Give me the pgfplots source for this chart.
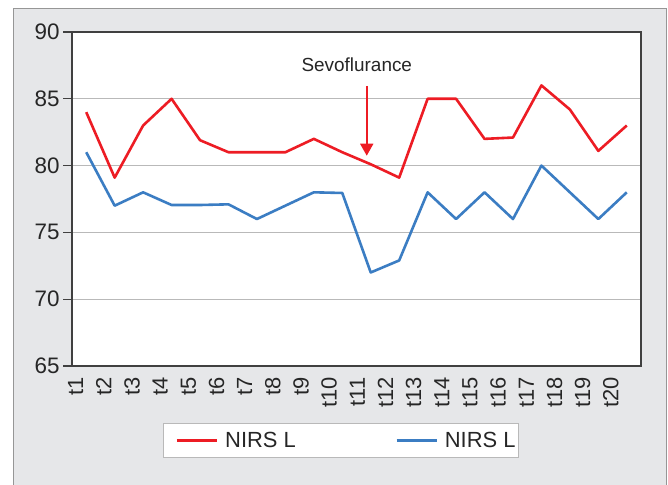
\documentclass[border=0pt]{standalone}
\usepackage{fontspec}
\setmainfont{Liberation Sans}
\usepackage{pgfplots}
\pgfplotsset{compat=1.18}
\usetikzlibrary{arrows.meta}
\definecolor{nred}{RGB}{237,28,36}
\definecolor{nblue}{RGB}{59,125,195}
\definecolor{framebg}{RGB}{230,231,233}
\definecolor{framegray}{RGB}{150,150,150}
\definecolor{gridgray}{RGB}{185,185,185}
\definecolor{axisdark}{RGB}{64,64,64}
\begin{document}
\begin{tikzpicture}[x=1bp,y=1bp]
\useasboundingbox (0,0) rectangle (668,485);
\clip (0,0) rectangle (668,485);
\draw[fill=framebg, draw=framegray, line width=1.3bp] (13.8,-10) rectangle (666.5,476.8);
\begin{axis}[
  at={(72bp,119bp)}, anchor=south west,
  width=569bp, height=334bp, scale only axis,
  xmin=0.5, xmax=20.5, ymin=65, ymax=90,
  ytick={65,70,75,80,85,90},
  xtick={0.631,1.621,2.611,3.600,4.590,5.580,6.570,7.560,8.549,9.539,10.529,11.519,12.509,13.498,14.488,15.478,16.468,17.458,18.447,19.437},
  xticklabels={t1,t2,t3,t4,t5,t6,t7,t8,t9,t10,t11,t12,t13,t14,t15,t16,t17,t18,t19,t20},
  xtick style={draw=none},
  xtick align=inside,
  ytick align=outside,
  ytick pos=left,
  major tick length=9bp,
  ytick style={color=axisdark, line width=1.1bp},
  ymajorgrids,
  grid style={color=gridgray, line width=1.1bp},
  axis line style={color=axisdark, line width=1.2bp},
  axis background/.style={fill=white},
  /pgf/number format/assume math mode=true,
  yticklabel style={font=\fontsize{22.5}{24}\selectfont, text=black!85},
  xticklabel style={font=\fontsize{22}{24}\selectfont, text=black!85, rotate=90, anchor=east},
  xticklabel shift=8bp,
  legend columns=2,
  legend image code/.code={\draw[#1] (0bp,0bp) -- (40bp,0bp);},
  legend style={
    at={(0.16,-0.1707)}, anchor=north west,
    draw=gridgray, line width=1.2bp, fill=white,
    inner xsep=12bp, inner ysep=8.7bp,
    font=\fontsize{22}{24}\selectfont,
    nodes={inner sep=0pt, text=black!85},
    /tikz/every even column/.style={column sep=0bp},
    /tikz/every odd column/.style={column sep=7bp},
  },
]
\addplot[nred, line width=2.6bp, line join=round] coordinates {
(1,84.0) (2,79.1) (3,83.0) (4,85.0) (5,81.9) (6,81.0) (7,81.0) (8,81.0) (9,82.0) (10,81.0)
(11,80.1) (12,79.1) (13,85.0) (14,85.0) (15,82.0) (16,82.1) (17,86.0) (18,84.2) (19,81.1) (20,83.0)};
\addlegendentry{\makebox[170bp][l]{NIRS L}}
\addplot[nblue, line width=2.6bp, line join=round] coordinates {
(1,81.0) (2,77.0) (3,78.0) (4,77.05) (5,77.05) (6,77.1) (7,76.0) (8,77.0) (9,78.0) (10,77.95)
(11,72.0) (12,72.9) (13,78.0) (14,76.0) (15,78.0) (16,76.0) (17,80.0) (18,78.0) (19,76.0) (20,78.0)};
\addlegendentry{\makebox[62bp][l]{NIRS L}}
\draw[nred, line width=1.8bp, -{Triangle[width=13bp,length=12bp]}] (axis cs:10.86,85.96) -- (axis cs:10.86,80.74);
\node[anchor=base, font=\fontsize{19}{22}\selectfont, text=black!85, inner sep=0pt] at (axis cs:10.51,87.01) {Sevoflurance};
\end{axis}
\end{tikzpicture}
\end{document}
